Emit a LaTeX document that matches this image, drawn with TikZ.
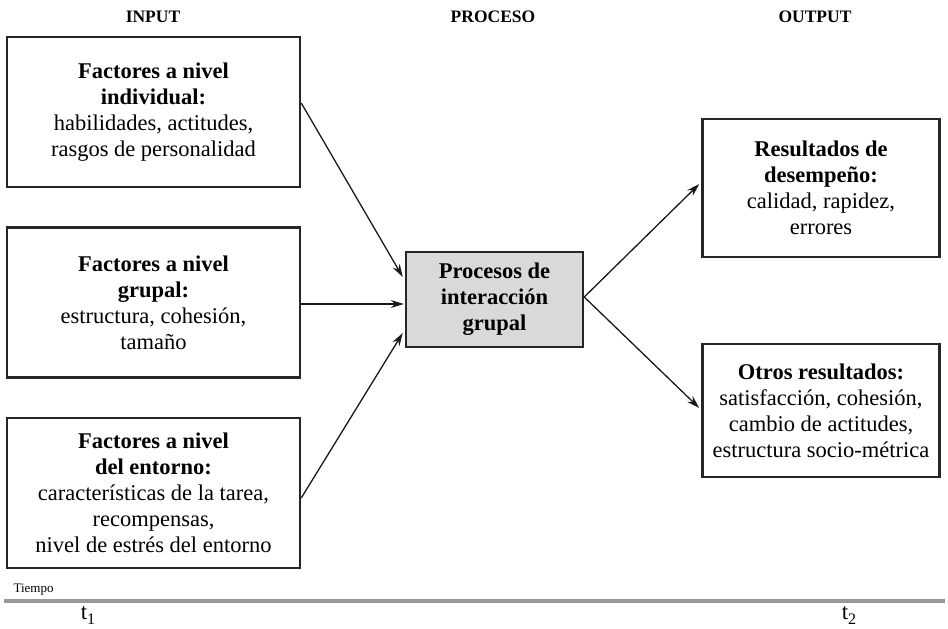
\documentclass[tikz,border=0pt]{standalone}
\usepackage{fontspec}
\setmainfont{Liberation Serif}
\usetikzlibrary{arrows.meta}

\tikzset{
  boxtext/.style={font=\fontsize{22.5}{26}\selectfont},
  factorbox/.style={boxtext, draw=black!85, line width=2.5pt, fill=white, align=center,
    minimum width=293pt, minimum height=150pt, inner sep=0pt},
  resultbox/.style={boxtext, draw=black!85, line width=2.5pt, fill=white, align=center,
    minimum width=237pt, inner sep=0pt},
  procbox/.style={draw=black!85, line width=2.5pt, fill=black!15, align=center,
    minimum width=177pt, minimum height=95pt, inner sep=0pt,
    font=\bfseries\fontsize{22.5}{26}\selectfont},
  header/.style={font=\bfseries\fontsize{17.5}{20}\selectfont},
  flow/.style={line width=1.3pt, draw=black!90,
    -{Stealth[length=13pt,width=8pt]}},
  timelabel/.style={font=\fontsize{23}{26}\selectfont, anchor=base},
}
\newcommand{\tsub}[1]{t\raisebox{-5pt}{\fontsize{16}{16}\selectfont #1}}

\begin{document}
\begin{tikzpicture}[x=1pt, y=-1pt]
  \useasboundingbox (0,0) rectangle (948,629);

  % column headings
  \node[header] (hin)  at (153,17) {INPUT};
  \node[header] (hpr)  at (493,17) {PROCESO};
  \node[header] (hout) at (815,17) {OUTPUT};

  % input factors
  \node[factorbox] (ind) at (153.5,112) {\textbf{Factores a nivel}\\ \textbf{individual:}\\ habilidades, actitudes,\\ rasgos de personalidad};
  \node[factorbox] (grp) at (153.5,302.5) {\textbf{Factores a nivel}\\ \textbf{grupal:}\\ estructura, cohesión,\\ tamaño};
  \node[factorbox] (env) at (153.5,493) {\textbf{Factores a nivel}\\ \textbf{del entorno:}\\ características de la tarea,\\ recompensas,\\ nivel de estrés del entorno};

  % group process
  \node[procbox] (proc) at (494.5,299.5) {Procesos de\\ interacción\\ grupal};

  % outcomes
  \node[resultbox, minimum height=138pt] (perf) at (821,188) {\textbf{Resultados de}\\ \textbf{desempeño:}\\ calidad, rapidez,\\ errores};
  \node[resultbox, minimum height=133pt] (other) at (821,410.5) {\textbf{Otros resultados:}\\ satisfacción, cohesión,\\ cambio de actitudes,\\ estructura socio-métrica};

  % connectors
  \draw[flow] ([yshift=9pt]ind.east) -- ([xshift=-2pt,yshift=22.5pt]proc.west);
  \draw[flow] ([yshift=-1.5pt]grp.east) -- ([xshift=-1pt,yshift=-4.5pt]proc.west);
  \draw[flow] ([yshift=-5pt]env.east) -- ([xshift=-2pt,yshift=-33.5pt]proc.west);
  \draw[flow] ([yshift=2.5pt]proc.east) -- ([xshift=-2pt,yshift=4pt]perf.west);
  \draw[flow] ([yshift=2.5pt]proc.east) -- ([xshift=-2pt,yshift=2.5pt]other.west);

  % time axis
  \coordinate (tl) at (4,601);
  \coordinate (tr) at (945,601);
  \draw[line width=4pt, black!40] (tl) -- (tr);
  \node[font=\fontsize{13}{15}\selectfont, anchor=base west] (tiempo) at (10,592) {Tiempo};
  \node[timelabel] (t1) at (88,619) {\tsub{1}};
  \node[timelabel] (t2) at (849,619) {\tsub{2}};
\end{tikzpicture}
\end{document}
